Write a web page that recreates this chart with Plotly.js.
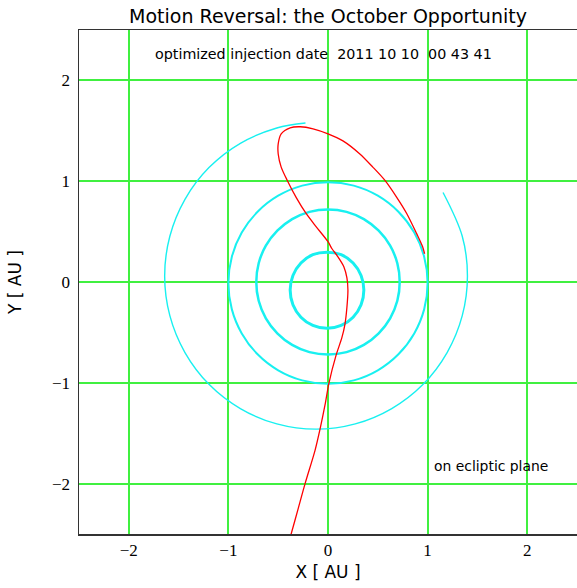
<!DOCTYPE html>
<html>
<head>
<meta charset="utf-8">
<script src="https://cdn.plot.ly/plotly-3.0.1.min.js"></script>
<style>html,body{margin:0;padding:0;background:#fff;}#chart{width:577px;height:588px;}</style>
</head>
<body>
<div id="chart"></div>
<script>
// Planetary orbits
const mercuryX = [0.36, 0.332, 0.252, 0.132, -0.01, -0.152, -0.272, -0.352, -0.38, -0.352, -0.272, -0.152, -0.01, 0.132, 0.252, 0.332, 0.36];
const mercuryY = [-0.08, 0.065, 0.189, 0.271, 0.295, 0.271, 0.189, 0.065, -0.08, -0.225, -0.349, -0.431, -0.46, -0.431, -0.349, -0.225, -0.08];

const venusX = [0.72, 0.696, 0.624, 0.509, 0.36, 0.186, 0, -0.186, -0.36, -0.509, -0.624, -0.696, -0.72, -0.696, -0.624, -0.509, -0.36, -0.186, 0, 0.186, 0.36, 0.509, 0.624, 0.696, 0.72];
const venusY = [0, 0.186, 0.36, 0.509, 0.624, 0.696, 0.72, 0.696, 0.624, 0.509, 0.36, 0.186, 0, -0.186, -0.36, -0.509, -0.624, -0.696, -0.72, -0.696, -0.624, -0.509, -0.36, -0.186, 0];

const earthX = [1.0, 0.966, 0.866, 0.707, 0.5, 0.259, 0, -0.259, -0.5, -0.707, -0.866, -0.966, -1.0, -0.966, -0.866, -0.707, -0.5, -0.259, 0, 0.259, 0.5, 0.707, 0.866, 0.966, 1.0];
const earthY = [-0.01, 0.249, 0.49, 0.697, 0.856, 0.956, 0.99, 0.956, 0.856, 0.697, 0.49, 0.249, -0.01, -0.269, -0.51, -0.717, -0.876, -0.976, -1.01, -0.976, -0.876, -0.717, -0.51, -0.269, -0.01];

const marsX = [1.155, 1.348, 1.40, 1.348, 1.196, 0.955, 0.64, 0.274, -0.12, -0.514, -0.88, -1.195, -1.436, -1.588, -1.64, -1.588, -1.436, -1.195, -0.88, -0.514, -0.226];
const marsY = [0.888, 0.454, 0.06, -0.334, -0.70, -1.015, -1.256, -1.408, -1.46, -1.408, -1.256, -1.015, -0.70, -0.334, 0.06, 0.454, 0.82, 1.135, 1.376, 1.528, 1.577];

// Spacecraft trajectory
const trajX = [-0.40, -0.37, -0.30, -0.23, -0.13, -0.08, -0.03, 0.01, 0.08, 0.14, 0.17, 0.19, 0.20, 0.19, 0.16, 0.10, 0.04, 0.00, -0.12, -0.22, -0.32, -0.41, -0.47, -0.50, -0.50, -0.47, -0.38, -0.28, -0.15, 0.00, 0.15, 0.32, 0.45, 0.57, 0.69, 0.79, 0.89, 0.95, 0.97];
const trajY = [-2.60, -2.50, -2.25, -2.00, -1.67, -1.46, -1.22, -1.00, -0.73, -0.55, -0.42, -0.25, -0.08, 0.04, 0.15, 0.25, 0.33, 0.40, 0.55, 0.68, 0.84, 1.01, 1.14, 1.27, 1.37, 1.47, 1.53, 1.54, 1.52, 1.47, 1.40, 1.27, 1.14, 1.01, 0.84, 0.68, 0.48, 0.35, 0.28];

const tickVals = [-2, -1, 0, 1, 2];
const titleText = "Motion Reversal: the October Opportunity";
const noteTop = "optimized injection date&nbsp; 2011 10 10&nbsp; 00 43 41";
const noteBottom = "on ecliptic plane";

const cyan = '#18f0f0';
const orbit = (x, y, w) => ({x: x, y: y, type: 'scatter', mode: 'lines',
  line: {color: cyan, width: w, shape: 'spline', smoothing: 1}, hoverinfo: 'skip', showlegend: false});

const data = [
  orbit(mercuryX, mercuryY, 3),
  orbit(venusX, venusY, 2.5),
  orbit(earthX, earthY, 2),
  orbit(marsX, marsY, 1.4),
  {x: trajX, y: trajY, type: 'scatter', mode: 'lines',
   line: {color: '#ff0000', width: 1.3, shape: 'spline', smoothing: 0.8}, showlegend: false}
];

const axisCommon = {
  range: [-2.5, 2.5], tickvals: tickVals, ticks: '', showgrid: true,
  gridcolor: '#40f040', gridwidth: 2, zeroline: false,
  showline: true, linecolor: '#333', linewidth: 1.5, mirror: true,
  tickfont: {family: 'Liberation Serif, Times New Roman, serif', size: 17, color: '#000'}
};

const layout = {
  width: 577, height: 588,
  margin: {l: 79, r: 0, t: 30, b: 54},
  paper_bgcolor: '#fff', plot_bgcolor: '#fff',
  title: {text: titleText, x: 0.5, xref: 'paper', xanchor: 'center', y: 1 - 16/588, yref: 'container', yanchor: 'middle',
    font: {family: 'DejaVu Sans, sans-serif', size: 19, color: '#000'}},
  xaxis: Object.assign({}, axisCommon, {
    title: {text: 'X [ AU ]', standoff: 7, font: {family: 'DejaVu Sans, sans-serif', size: 17, color: '#000'}}
  }),
  yaxis: Object.assign({}, axisCommon, {
    ticklabelstandoff: 4,
    title: {text: 'Y [ AU ]', standoff: 26, font: {family: 'DejaVu Sans, sans-serif', size: 17, color: '#000'}}
  }),
  annotations: [
    {text: noteTop, xref: 'paper', yref: 'paper', x: 0.491, y: 0.952, showarrow: false,
     xanchor: 'center', yanchor: 'middle', font: {family: 'DejaVu Sans, sans-serif', size: 14.3, color: '#000'}},
    {text: noteBottom, xref: 'paper', yref: 'paper', x: 0.828, y: 0.135, showarrow: false,
     xanchor: 'center', yanchor: 'middle', font: {family: 'DejaVu Sans, sans-serif', size: 13.9, color: '#000'}}
  ]
};

Plotly.newPlot('chart', data, layout, {displayModeBar: false, staticPlot: true});
</script>
</body>
</html>
